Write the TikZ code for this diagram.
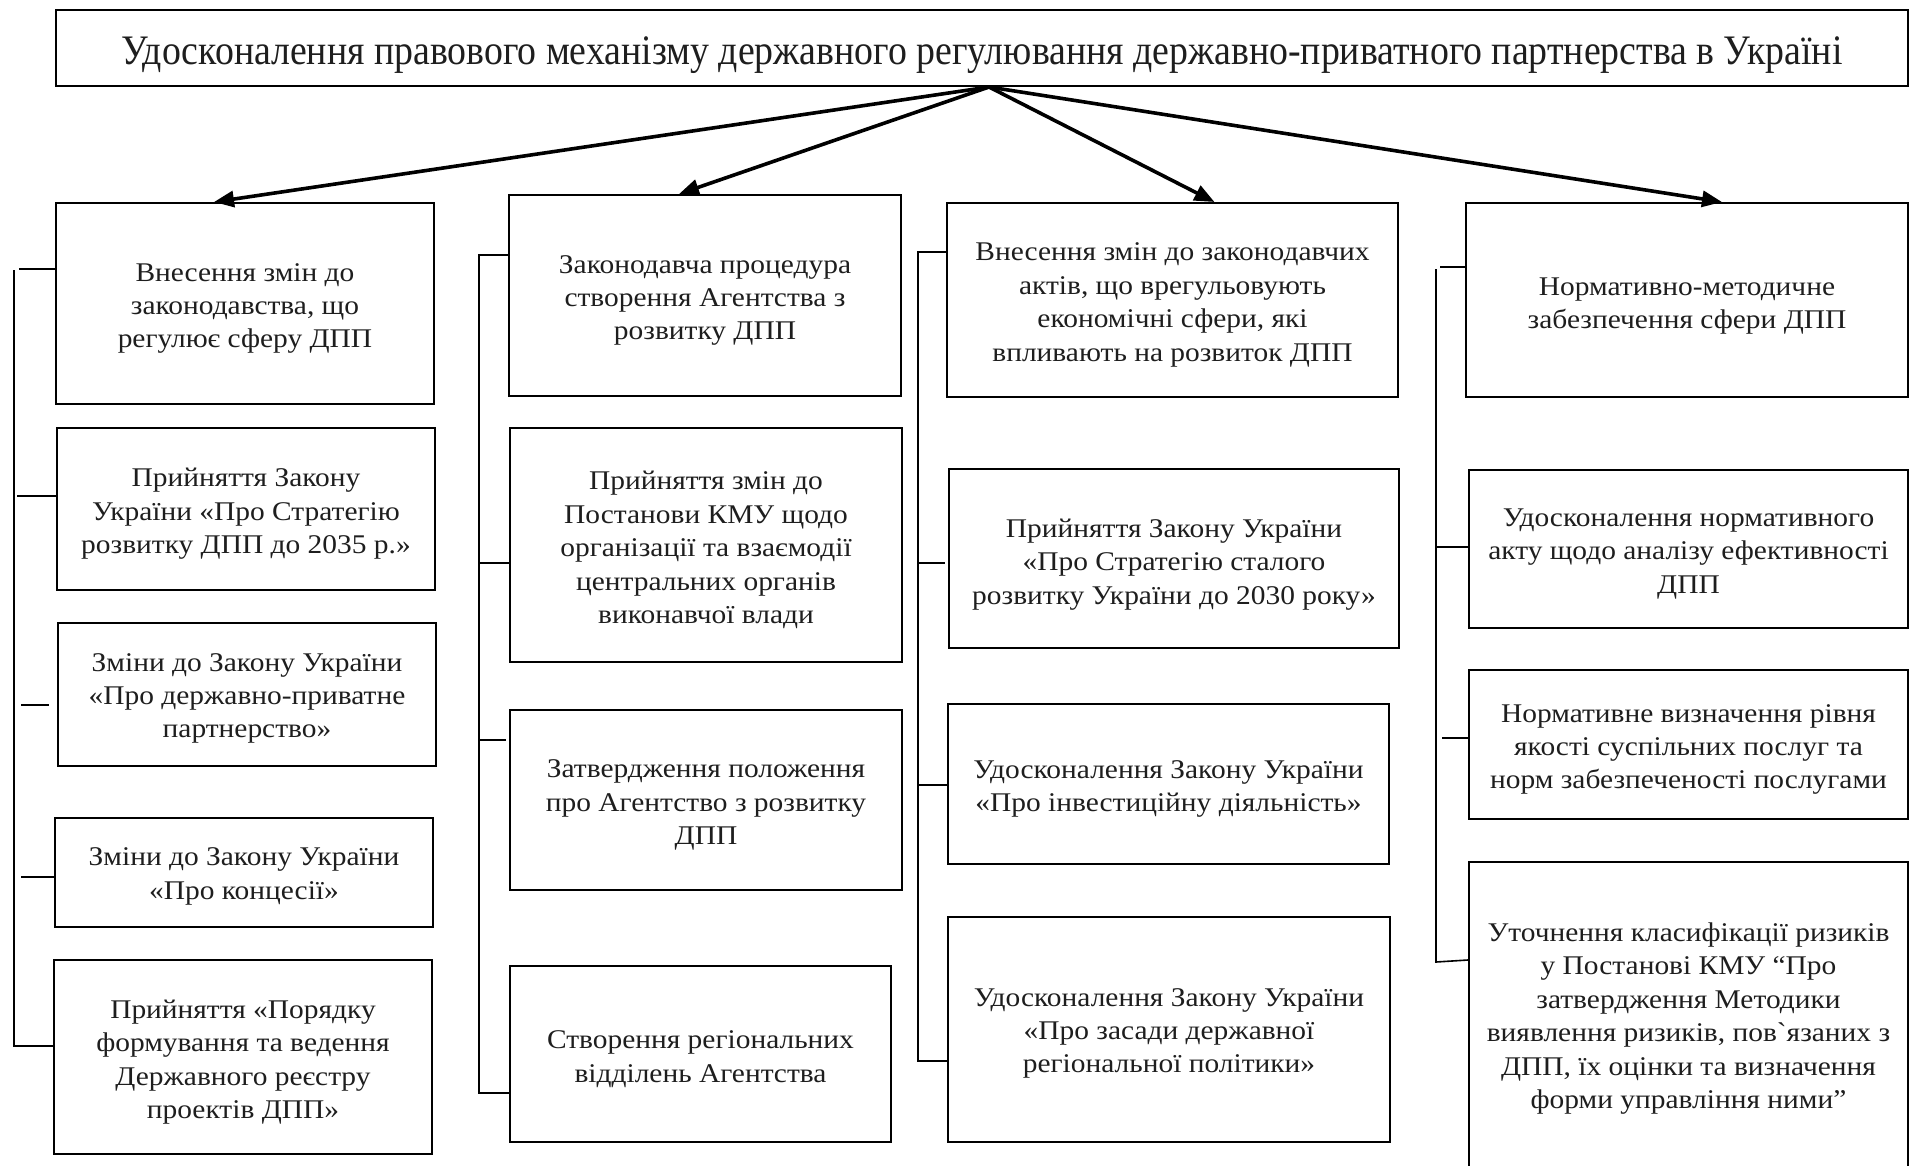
\documentclass[tikz,border=0pt]{standalone}
\usepackage{fontspec}
\setmainfont{Liberation Serif}[Ligatures=TeXOff]
\newfontfamily\bodyface{Liberation Serif}[Ligatures=TeXOff,FakeStretch=1.09]
\newfontfamily\titleface{Liberation Serif}[Ligatures=TeXOff,FakeStretch=0.9]
\usetikzlibrary{arrows.meta,calc}
\newcommand\bodyfnt{\bodyface\fontsize{27}{33.4}\selectfont}
\newcommand\titlefnt{\titleface\fontsize{42}{48}\selectfont}
\definecolor{ink}{HTML}{1E1E1E}
\tikzset{
  box/.style={draw, line width=2pt, inner sep=0pt},
  boxtext/.style={align=center, font=\bodyfnt, text=ink, inner sep=0pt},
  bracket/.style={line width=1.6pt},
  arr/.style={line width=3.6pt, -{Triangle[length=20pt,width=16pt]}},
}
% #1 name, #2 cx, #3 cy, #4 width, #5 height, #6 text shift, #7 text
\newcommand\mkbox[7]{%
  \node[box, minimum width=#4pt, minimum height=#5pt] (#1) at (#2,#3) {};
  \node[boxtext] (#1-t) at ([yshift=-#6pt]#1.center) {#7};
}
\begin{document}
\begin{tikzpicture}[x=1pt,y=-1pt]
\useasboundingbox (0,0) rectangle (1910,1165);
\fill[white] (0,0) rectangle (1910,1165);

\node[box, minimum width=1852pt, minimum height=76pt] (title) at (982,48) {};
\node[boxtext, font=\titlefnt] (title-t) at ([yshift=-7pt]title.center)
  {Удосконалення правового механізму державного регулювання державно-приватного партнерства в Україні};

% column 1
\mkbox{b1}{245}{303.5}{378}{201}{5}{Внесення змін до\\законодавства, що\\регулює сферу ДПП}
\mkbox{b2}{246}{509}{378}{162}{5}{Прийняття Закону\\України «Про Стратегію\\розвитку ДПП до 2035 р.»}
\mkbox{b3}{247}{694.5}{378}{143}{4}{Зміни до Закону України\\«Про державно-приватне\\партнерство»}
\mkbox{b4}{244}{872.5}{378}{109}{4}{Зміни до Закону України\\«Про концесії»}
\mkbox{b5}{243}{1057}{378}{194}{5}{Прийняття «Порядку\\формування та ведення\\Державного реєстру\\проектів ДПП»}

% column 2
\mkbox{b6}{705}{295.5}{392}{201}{5}{Законодавча процедура\\створення Агентства з\\розвитку ДПП}
\mkbox{b7}{706}{545}{392}{234}{5}{Прийняття змін до\\Постанови КМУ щодо\\організації та взаємодії\\центральних органів\\виконавчої влади}
\mkbox{b8}{706}{800}{392}{180}{5}{Затвердження положення\\про Агентство з розвитку\\ДПП}
\mkbox{b9}{700.5}{1054}{381}{176}{5}{Створення регіональних\\відділень Агентства}

% column 3
\mkbox{b10}{1172.5}{300}{451}{194}{5}{Внесення змін до законодавчих\\актів, що врегульовують\\економічні сфери, які\\впливають на розвиток ДПП}
\mkbox{b11}{1174}{558.5}{450}{179}{6}{Прийняття Закону України\\«Про Стратегію сталого\\розвитку України до 2030 року»}
\mkbox{b12}{1168.5}{784}{441}{160}{5}{Удосконалення Закону України\\«Про інвестиційну діяльність»}
\mkbox{b13}{1169}{1029.5}{442}{225}{4}{Удосконалення Закону України\\«Про засади державної\\регіональної політики»}

% column 4
\mkbox{b14}{1687}{300}{442}{194}{6}{Нормативно-методичне\\забезпечення сфери ДПП}
\mkbox{b15}{1688.5}{549}{439}{158}{5}{Удосконалення нормативного\\акту щодо аналізу ефективності\\ДПП}
\mkbox{b16}{1688.5}{744.5}{439}{149}{5}{Нормативне визначення рівня\\якості суспільних послуг та\\норм забезпеченості послугами}
\mkbox{b17}{1688.5}{1018.5}{439}{313}{0}{Уточнення класифікації ризиків\\у Постанові КМУ “Про\\затвердження Методики\\виявлення ризиків, пов`язаних з\\ДПП, їх оцінки та визначення\\форми управління ними”}

% arrows
\coordinate (o) at ([xshift=7pt]title.south);
\draw[arr] (o) -- ([xshift=-31pt]b1.north);
\draw[arr] (o) -- ([xshift=-26pt]b6.north);
\draw[arr] (o) -- ([xshift=42pt]b10.north);
\draw[arr] (o) -- ([xshift=35pt]b14.north);

% bracket column 1
\coordinate (k1t) at (14,270);
\coordinate (k1b) at (14,1046);
\draw[bracket] (k1t) -- (k1b) -- (b5.west |- k1b);
\draw[bracket] (19,269) -- (b1.west |- 19,269);
\draw[bracket] (17,496) -- (b2.west |- 17,496);
\draw[bracket] (21,705) -- (49,705);
\draw[bracket] (21,877) -- (b4.west |- 21,877);

% bracket column 2
\coordinate (k2t) at (479,255);
\coordinate (k2b) at (479,1093);
\draw[bracket] (b6.west |- k2t) -- (k2t) -- (k2b) -- (b9.west |- k2b);
\draw[bracket] (479,563) -- (b7.west |- 479,563);
\draw[bracket] (479,740) -- (506,740);

% bracket column 3
\coordinate (k3t) at (918,252);
\coordinate (k3b) at (918,1061);
\draw[bracket] (b10.west |- k3t) -- (k3t) -- (k3b) -- (b13.west |- k3b);
\draw[bracket] (918,563) -- (945,563);
\draw[bracket] (918,785) -- (b12.west |- 918,785);

% bracket column 4
\coordinate (k4t) at (1436,269);
\coordinate (k4b) at (1436,962);
\draw[bracket] (k4t) -- (k4b) -- ($(b17.west |- k4b)+(0,-2)$);
\draw[bracket] (1440,267) -- (b14.west |- 1440,267);
\draw[bracket] (1436,547) -- (b15.west |- 1436,547);
\draw[bracket] (1442,738) -- (b16.west |- 1442,738);
\end{tikzpicture}
\end{document}
